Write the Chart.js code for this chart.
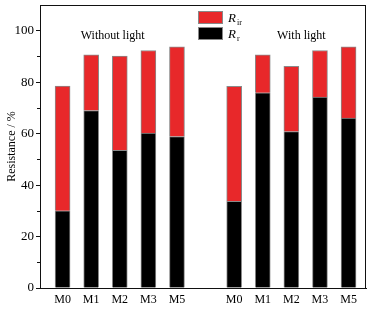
<!DOCTYPE html>
<html>
<head>
<meta charset="utf-8">
<script src="https://cdn.jsdelivr.net/npm/chart.js@4"></script>
<style>
  body { margin: 0; background: #fff; }
  #wrap { width: 375px; height: 315px; }
</style>
</head>
<body>
<div id="wrap"><canvas id="resChart" width="375" height="315"></canvas></div>
<script>
const categories = ['M0', 'M1', 'M2', 'M3', 'M5'];
const darkPos = [1, 2, 3, 4, 5];
const lightPos = [7, 8, 9, 10, 11];
const rrDark = [30.0, 69.0, 53.5, 60.2, 58.9];
const rirDark = [48.5, 21.6, 36.6, 32.1, 34.8];
const rrLight = [33.7, 75.9, 60.8, 74.2, 66.0];
const rirLight = [44.7, 14.7, 25.4, 18.1, 27.7];
const yTicks = [0, 20, 40, 60, 80, 100];
const groupLabels = ['Without light', 'With light'];

const serif = '"Liberation Serif", "DejaVu Serif", serif';

function pts(pos, vals) {
    return pos.map((x, i) => ({ x: x, y: vals[i] }));
}

const tickLabelMap = {};
darkPos.forEach((p, i) => tickLabelMap[p] = categories[i]);
lightPos.forEach((p, i) => tickLabelMap[p] = categories[i]);

// box, minor ticks, group text and legend with subscripts
const extras = {
    id: 'extras',
    afterDraw(chart) {
        const ctx = chart.ctx;
        const a = chart.chartArea;
        const y = chart.scales.y;
        const x = chart.scales.x;
        ctx.save();
        ctx.strokeStyle = '#111';
        ctx.lineWidth = 1;
        ctx.strokeRect(a.left + 0.5, a.top + 0.5, a.right - a.left - 1, a.bottom - a.top);
        // minor ticks
        for (let v = 10; v < 110; v += 20) {
            const py = Math.round(y.getPixelForValue(v)) + 0.5;
            ctx.beginPath();
            ctx.moveTo(a.left - 3, py);
            ctx.lineTo(a.left, py);
            ctx.stroke();
        }
        // group labels
        ctx.fillStyle = '#000';
        ctx.font = '12px ' + serif;
        ctx.textAlign = 'center';
        ctx.textBaseline = 'middle';
        const gy = y.getPixelForValue(98);
        ctx.fillText(groupLabels[0], x.getPixelForValue(2.75), gy);
        ctx.fillText(groupLabels[1], x.getPixelForValue(9.35), gy);
        // legend
        const lx = a.left + 158, ly = a.top + 6;
        const items = [['#e8282a', 'ir'], ['#000000', 'r']];
        items.forEach((it, i) => {
            const by = ly + i * 16;
            ctx.fillStyle = it[0];
            ctx.fillRect(lx, by, 25, 13);
            ctx.strokeStyle = '#888';
            ctx.strokeRect(lx + 0.5, by + 0.5, 24, 12);
            ctx.fillStyle = '#000';
            ctx.textAlign = 'left';
            ctx.textBaseline = 'alphabetic';
            ctx.font = 'italic 13px ' + serif;
            ctx.fillText('R', lx + 30, by + 11);
            ctx.font = '8px ' + serif;
            ctx.fillText(it[1], lx + 39, by + 14);
        });
        ctx.restore();
    }
};

new Chart(document.getElementById('resChart'), {
    type: 'bar',
    data: {
        datasets: [
            {
                label: 'Rr',
                data: pts(darkPos, rrDark).concat(pts(lightPos, rrLight)),
                backgroundColor: '#000000',
                borderColor: '#8a8a8a',
                borderWidth: 1,
                barThickness: 15
            },
            {
                label: 'Rir',
                data: pts(darkPos, rirDark).concat(pts(lightPos, rirLight)),
                backgroundColor: '#e8282a',
                borderColor: '#8a8a8a',
                borderWidth: 1,
                barThickness: 15
            }
        ]
    },
    options: {
        responsive: false,
        animation: false,
        layout: { padding: { top: 5, right: 9, left: 0, bottom: 0 } },
        plugins: { legend: { display: false }, tooltip: { enabled: false } },
        scales: {
            x: {
                type: 'linear',
                stacked: true,
                offset: false,
                min: 0.21,
                max: 11.61,
                afterBuildTicks: s => { s.ticks = darkPos.concat(lightPos).map(v => ({ value: v })); },
                afterFit: s => { s.height = 27; s.paddingLeft = 0; s.paddingRight = 0; },
                grid: { display: false, drawTicks: false, offset: false },
                border: { color: '#111' },
                ticks: {
                    color: '#000',
                    padding: 5,
                    font: { family: serif, size: 12 },
                    maxRotation: 0,
                    autoSkip: false,
                    callback: v => tickLabelMap[v] || ''
                }
            },
            y: {
                stacked: true,
                min: 0,
                max: 110,
                afterBuildTicks: s => { s.ticks = yTicks.map(v => ({ value: v })); },
                afterFit: s => { s.width = 40; s.paddingTop = 0; s.paddingBottom = 0; },
                grid: { drawOnChartArea: false, drawTicks: true, tickLength: 4, color: '#111' },
                border: { color: '#111' },
                ticks: {
                    color: '#000',
                    padding: 2,
                    font: { family: serif, size: 13 }
                },
                title: {
                    display: true,
                    text: 'Resistance / %',
                    color: '#000',
                    font: { family: serif, size: 12 },
                    padding: { top: 5, bottom: 0 }
                }
            }
        }
    },
    plugins: [extras]
});
</script>
</body>
</html>
